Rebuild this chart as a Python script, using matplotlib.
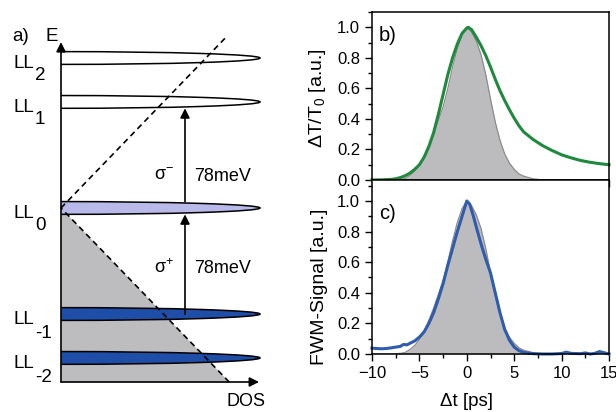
import numpy as np
import matplotlib
matplotlib.use("Agg")
import matplotlib.pyplot as plt
from matplotlib.patches import Ellipse
from matplotlib.ticker import MultipleLocator

plt.rcParams['font.family'] = ['Liberation Sans', 'DejaVu Sans']
plt.rcParams['mathtext.fontset'] = 'custom'
plt.rcParams['mathtext.rm'] = 'Liberation Sans'
plt.rcParams['mathtext.default'] = 'regular'

# --- a) Landau levels in graphene (energies in meV) ---
ll_index = [2, 1, 0, -1, -2]
ll_energy = [110.3, 78.0, 0.0, -78.0, -110.3]
ll_color = ['white', 'white', '#b9b9ea', '#1f4ea8', '#1f4ea8']
ll_halfwidth = 4.7       # meV
ll_length = 1.0          # DOS units
cone_slope = 0.845 / 128  # DOS per meV
gap_label = '78meV'

# --- b) pump-probe transient and c) four-wave mixing (delay in ps) ---
ref_t = [-10, -8, -7, -6.5, -6, -5.5, -5, -4.5, -4, -3.5, -3, -2.5, -2, -1.5, -1, -0.5,
         0, 0.5, 1, 1.5, 2, 2.5, 3, 3.5, 4, 4.5, 5, 5.5, 6, 7, 8, 15]
ref_v = [0, 0, 0.004, 0.01, 0.03, 0.055, 0.095, 0.15, 0.22, 0.30, 0.39, 0.48, 0.60, 0.74, 0.86, 0.95,
         1.0, 0.97, 0.91, 0.82, 0.69, 0.53, 0.38, 0.26, 0.17, 0.11, 0.07, 0.04, 0.025, 0.008, 0, 0]

dtt_t = [-10, -9, -8, -7.5, -7, -6.5, -6, -5.5, -5, -4.5, -4, -3.5, -3, -2.5, -2, -1.5, -1, -0.5,
         0, 0.15, 0.5, 1, 1.5, 2, 2.5, 3, 3.5, 4, 4.5, 5, 5.5, 6, 7, 8, 9, 10, 11, 12, 13, 14, 15]
dtt_v = [0, 0.001, 0.004, 0.008, 0.016, 0.028, 0.045, 0.07, 0.10, 0.15, 0.22, 0.31, 0.43, 0.56, 0.69, 0.80, 0.89, 0.96,
         0.995, 1.0, 0.985, 0.935, 0.88, 0.815, 0.74, 0.66, 0.585, 0.52, 0.46, 0.405, 0.355, 0.315, 0.265, 0.225, 0.193, 0.165, 0.145, 0.128, 0.116, 0.107, 0.100]

fwm_t = [-10, -9.5, -9, -8.5, -8, -7.5, -7, -6.7, -6.3, -6, -5.5, -5, -4.5, -4, -3.5, -3, -2.5, -2, -1.5, -1, -0.5,
         0, 0.3, 0.7, 1, 1.5, 2, 2.5, 3, 3.5, 4, 4.5, 5, 5.5, 6, 7, 8, 9, 10, 10.5, 11, 12, 12.5, 13, 13.5, 14, 14.5, 15]
fwm_v = [0.038, 0.036, 0.034, 0.036, 0.04, 0.045, 0.05, 0.062, 0.06, 0.07, 0.085, 0.11, 0.145, 0.2, 0.27, 0.36, 0.46, 0.58, 0.69, 0.80, 0.90,
         1.0, 0.98, 0.90, 0.83, 0.72, 0.62, 0.53, 0.40, 0.27, 0.16, 0.09, 0.045, 0.022, 0.01, 0.002, 0, 0, 0.003, 0.012, 0.004, 0.002, 0.007, 0.0, 0.004, 0.016, 0.008, 0.0]

W, H = 616, 412
fig = plt.figure(figsize=(W / 100, H / 100), dpi=100)

def px_axes(x0, y0, x1, y1):
    return fig.add_axes([x0 / W, (H - y1) / H, (x1 - x0) / W, (y1 - y0) / H])

# ---------------- panel a ----------------
ax = px_axes(61, 30, 265, 382)
ax.set_xlim(0, 1.025)
ax.set_ylim(-128, 130.9)
ax.axis('off')

e_low = np.linspace(-128, 0, 50)
ax.fill_betweenx(e_low, 0, cone_slope * np.abs(e_low), color='#bdbdbf', lw=0, zorder=1)

for E, c in zip(ll_energy, ll_color):
    ax.add_patch(Ellipse((0, E), 2 * ll_length, 2 * ll_halfwidth, facecolor=c,
                         edgecolor='black', lw=1.1, zorder=2))

e_up = np.linspace(0, 126, 50)
for e in (e_low, e_up):
    ax.plot(cone_slope * np.abs(e), e, color='black', lw=1.2, ls=(0, (3.5, 2.5)), zorder=3,
            clip_on=False)

arrow_kw = dict(arrowstyle='-|>', color='black', lw=1.2, mutation_scale=14,
                shrinkA=0, shrinkB=0)
x_tr = 0.623
ax.annotate('', xy=(x_tr, ll_energy[1] - ll_halfwidth), xytext=(x_tr, ll_energy[2] + ll_halfwidth),
            arrowprops=arrow_kw, zorder=4)
ax.annotate('', xy=(x_tr, ll_energy[2] - ll_halfwidth), xytext=(x_tr, ll_energy[3]),
            arrowprops=arrow_kw, zorder=4)
ax.text(0.518, 24, r'σ$^{-}$', fontsize=13, ha='center', va='center')
ax.text(0.518, -44, r'σ$^{+}$', fontsize=13, ha='center', va='center')
ax.text(0.668, 23.5, gap_label, fontsize=13, ha='left', va='center')
ax.text(0.668, -44.5, gap_label, fontsize=13, ha='left', va='center')

# energy and DOS axes
ax.annotate('', xy=(0, 122), xytext=(0, -128), arrowprops=arrow_kw, annotation_clip=False, zorder=5)
ax.annotate('', xy=(0.995, -128), xytext=(0, -128), arrowprops=arrow_kw, annotation_clip=False, zorder=5)
ax.text(-0.08, 126, 'E', fontsize=13.5, ha='left', va='center', clip_on=False)
ax.text(-0.245, 126, 'a)', fontsize=13.5, ha='left', va='center', clip_on=False)
ax.text(0.93, -142, 'DOS', fontsize=13, ha='center', va='center', clip_on=False)

for n, E in zip(ll_index, ll_energy):
    ax.annotate('LL', xy=(-0.24, E), xytext=(0, -4), textcoords='offset points',
                fontsize=13.5, ha='left', va='center', annotation_clip=False)
    ax.annotate(str(n), xy=(-0.24, E), xytext=(15.5, -12.5 if n >= 0 else -14),
                textcoords='offset points', fontsize=13.5, ha='left', va='center',
                annotation_clip=False)

# ---------------- panels b and c ----------------
ax_b = px_axes(372, 12, 609, 180)
ax_c = px_axes(372, 180, 609, 354)

def style(a, top):
    a.set_xlim(-10, 15)
    a.set_ylim(0, top)
    a.xaxis.set_major_locator(MultipleLocator(5))
    a.xaxis.set_minor_locator(MultipleLocator(2.5))
    a.yaxis.set_major_locator(MultipleLocator(0.2))
    a.yaxis.set_minor_locator(MultipleLocator(0.1))
    a.tick_params(which='both', direction='out', labelsize=12, width=1.0)
    a.tick_params(which='major', length=5)
    a.tick_params(which='minor', length=3)
    a.yaxis.set_major_formatter(plt.FormatStrFormatter('%.1f'))
    for s in a.spines.values():
        s.set_linewidth(1.1)

style(ax_b, 1.10)
style(ax_c, 1.137)
ax_b.tick_params(labelbottom=False)

ax_b.fill_between(ref_t, ref_v, color='#bcbcbe', lw=0)
ax_b.plot(ref_t, ref_v, color='#8c8c8c', lw=0.9)
ax_b.plot(dtt_t, dtt_v, color='#1f8a3e', lw=2.2, clip_on=False)

ax_c.fill_between(ref_t, ref_v, color='#bcbcbe', lw=0)
ax_c.plot(ref_t, ref_v, color='#8c8c8c', lw=0.9)
ax_c.plot(fwm_t, fwm_v, color='#2f5cae', lw=2.2, clip_on=False)

ax_b.text(0.03, 0.86, 'b)', transform=ax_b.transAxes, fontsize=14.5, va='center')
ax_c.text(0.03, 0.81, 'c)', transform=ax_c.transAxes, fontsize=14.5, va='center')

ax_b.set_ylabel(r'ΔT/T$_0$ [a.u.]', fontsize=14)
ax_b.yaxis.set_label_coords(-0.185, 0.49)
ax_c.set_ylabel('FWM-Signal [a.u.]', fontsize=14)
ax_c.yaxis.set_label_coords(-0.185, 0.385)
ax_c.set_xlabel('Δt [ps]', fontsize=13.5)
ax_c.xaxis.set_label_coords(0.397, -0.225)

fig.savefig('out.png', dpi=100)
